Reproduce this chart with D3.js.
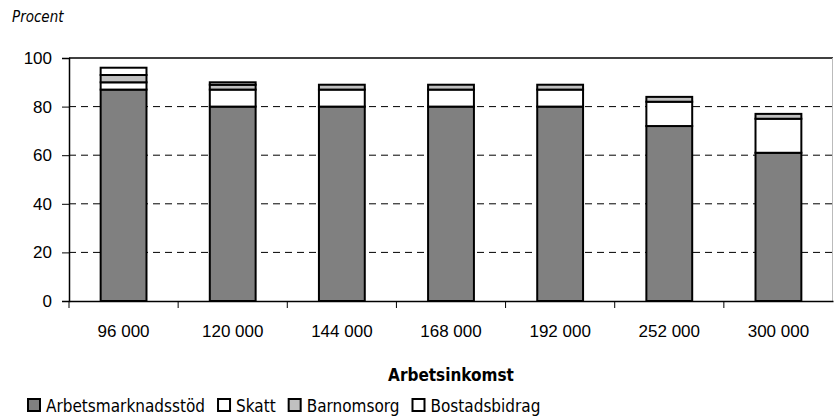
<!DOCTYPE html>
<html>
<head>
<meta charset="utf-8">
<script src="https://cdn.jsdelivr.net/npm/d3@7"></script>
<style>
  body { margin: 0; background: #fff; }
  svg { display: block; font-family: "DejaVu Sans Condensed", "Liberation Sans Narrow", "Arial Narrow", sans-serif; font-stretch: condensed; }
</style>
</head>
<body>
<div id="chart"></div>
<script>
// inkomstnivåer (kr/år)
const categories = ["96 000", "120 000", "144 000", "168 000", "192 000", "252 000", "300 000"];
const seriesNames = ["Arbetsmarknadsstöd", "Skatt", "Barnomsorg", "Bostadsbidrag"];
const arbetsmarknadsstod = [87, 80, 80, 80, 80, 72, 61];
const skatt = [3, 7, 7, 7, 7, 10, 14];
const barnomsorg = [3, 2, 2, 2, 2, 2, 2];
const bostadsbidrag = [3, 1, 0, 0, 0, 0, 0];
const yTicks = [0, 20, 40, 60, 80, 100];

const colors = ["#808080", "#ffffff", "#c0c0c0", "#ffffff"];

const dimensions = {
    width: 834,
    height: 419,
    margin: { top: 58, right: 1, bottom: 118, left: 69 }
};

const rows = categories.map((c, i) => ({
    cat: c,
    [seriesNames[0]]: arbetsmarknadsstod[i],
    [seriesNames[1]]: skatt[i],
    [seriesNames[2]]: barnomsorg[i],
    [seriesNames[3]]: bostadsbidrag[i]
}));

const stacked = d3.stack().keys(seriesNames)(rows);

const svg = d3.select("#chart").append("svg")
    .attr("width", dimensions.width)
    .attr("height", dimensions.height);

const x = d3.scaleBand()
    .domain(categories)
    .range([dimensions.margin.left, dimensions.width - dimensions.margin.right]);

const y = d3.scaleLinear()
    .domain([0, 100])
    .range([dimensions.height - dimensions.margin.bottom, dimensions.margin.top]);

const barWidth = x.bandwidth() * 0.42;

// gridlines
svg.append("g")
    .selectAll("line")
    .data(yTicks.filter(d => d > 0 && d < 100))
    .join("line")
        .attr("x1", x.range()[0])
        .attr("x2", x.range()[1])
        .attr("y1", d => y(d))
        .attr("y2", d => y(d))
        .attr("stroke", "#000")
        .attr("stroke-width", 1)
        .attr("stroke-dasharray", "7,5");

// top line + right border
svg.append("line")
    .attr("x1", x.range()[0]).attr("x2", x.range()[1])
    .attr("y1", y(100)).attr("y2", y(100))
    .attr("stroke", "#000").attr("stroke-width", 1.5);
svg.append("line")
    .attr("x1", x.range()[1] - 0.5).attr("x2", x.range()[1] - 0.5)
    .attr("y1", y(100)).attr("y2", y(0))
    .attr("stroke", "#bbb").attr("stroke-width", 1);

// bars
svg.append("g")
    .selectAll("g")
    .data(stacked)
    .join("g")
        .attr("fill", (d, i) => colors[i])
    .selectAll("rect")
    .data(d => d.filter(p => p[1] - p[0] > 0))
    .join("rect")
        .attr("x", d => x(d.data.cat) + (x.bandwidth() - barWidth) / 2)
        .attr("width", barWidth)
        .attr("y", d => y(d[1]))
        .attr("height", d => y(d[0]) - y(d[1]))
        .attr("stroke", "#000")
        .attr("stroke-width", 2);

// y axis
const yAxis = svg.append("g")
    .attr("transform", `translate(${dimensions.margin.left},0)`)
    .call(d3.axisLeft(y).tickValues(yTicks).tickSize(7).tickPadding(10));
yAxis.select(".domain").attr("stroke", "#000").attr("stroke-width", 1.5);
yAxis.selectAll("text").attr("font-size", 17).attr("fill", "#000")
    .attr("font-family", "inherit");

// x axis
const xAxis = svg.append("g")
    .attr("transform", `translate(0,${y(0)})`)
    .call(d3.axisBottom(x).tickSize(0).tickPadding(24));
xAxis.select(".domain").attr("stroke", "#000").attr("stroke-width", 1.5);
xAxis.selectAll("text").attr("font-size", 17).attr("fill", "#000")
    .attr("font-family", "inherit");

// category boundary ticks
svg.append("g")
    .selectAll("line")
    .data(categories.slice(1).map(c => x(c)).concat([x.range()[0]]))
    .join("line")
        .attr("x1", d => d).attr("x2", d => d)
        .attr("y1", y(0)).attr("y2", y(0) + 7)
        .attr("stroke", "#000");

// titles
svg.append("text")
    .attr("x", 12).attr("y", 22)
    .attr("font-size", 15).attr("font-style", "italic")
    .text("Procent");

svg.append("text")
    .attr("x", 451).attr("y", 381)
    .attr("text-anchor", "middle")
    .attr("font-size", 17).attr("font-weight", "bold")
    .text("Arbetsinkomst");

// legend
const legend = svg.append("g").attr("transform", "translate(27,398)");
let lx = 0;
seriesNames.forEach((name, i) => {
    const item = legend.append("g").attr("transform", `translate(${lx},0)`);
    item.append("rect")
        .attr("x", 1).attr("y", 1)
        .attr("width", 12).attr("height", 12)
        .attr("fill", colors[i])
        .attr("stroke", "#000").attr("stroke-width", 2);
    const t = item.append("text")
        .attr("x", 19).attr("y", 14)
        .attr("font-size", 17)
        .text(name);
    lx += 19 + t.node().getComputedTextLength() + 12;
});
</script>
</body>
</html>
